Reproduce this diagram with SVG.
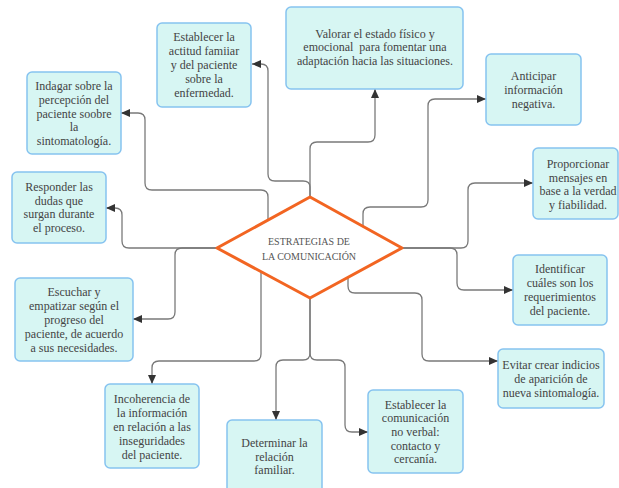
<svg xmlns="http://www.w3.org/2000/svg" width="619" height="488" viewBox="0 0 619 488">
  <style>
    .box { fill: #d7f6f3; stroke: #86c3f0; stroke-width: 1.5; }
    .lbl { font-family: "Liberation Serif", "Times New Roman", serif; font-size: 12px; fill: #444; text-anchor: middle; }
    .hub { font-family: "Liberation Serif", "Times New Roman", serif; font-size: 10px; fill: #555; text-anchor: middle; }
    .wire { fill: none; stroke: #7a7a7a; stroke-width: 1.3; marker-end: url(#arrow); }
    .wire-plain { fill: none; stroke: #7a7a7a; stroke-width: 1.3; }
  </style>
  <defs>
    <marker id="arrow" markerUnits="userSpaceOnUse" markerWidth="10" markerHeight="8" refX="9" refY="4" orient="auto">
      <path d="M0,0 L9,4 L0,8 Z" fill="#333"/>
    </marker>
  </defs>
  <rect width="619" height="488" fill="#ffffff"/>

  <!-- connectors: each starts under the hub and bends to its card -->
  <g id="connectors">
    <path class="wire" d="M268,232 V197 Q268,190 261,190 H152 Q145,190 145,183 V120 Q145,113 138,113 H121"/>
    <path class="wire" d="M310,205 V187 Q310,181 303,181 H275 Q268,181 268,174 V71 Q268,64 261,64 H252"/>
    <path class="wire" d="M310,205 V149 Q310,142 317,142 H368 Q375,142 375,135 V89"/>
    <path class="wire" d="M363,235 V214 Q363,207 370,207 H421 Q428,207 428,200 V106 Q428,99 435,99 H486"/>
    <path class="wire" d="M395,248 H461 Q468,248 468,241 V190 Q468,183 475,183 H533"/>
    <path class="wire" d="M395,248 H450 Q457,248 457,255 V283 Q457,290 464,290 H513"/>
    <path class="wire" d="M348,265 V286 Q348,293 355,293 H415 Q422,293 422,300 V354 Q422,361 429,361 H498"/>
    <path class="wire" d="M310,290 V353 Q310,360 317,360 H338 Q345,360 345,367 V425 Q345,432 352,432 H368"/>
    <path class="wire" d="M310,290 V353 Q310,360 303,360 H283 Q276,360 276,367 V420"/>
    <path class="wire" d="M261,262 V354 Q261,361 254,361 H159 Q152,361 152,368 V384"/>
    <path class="wire" d="M225,248 H182 Q175,248 175,255 V312 Q175,319 168,319 H133"/>
    <path class="wire" d="M225,248 H129 Q122,248 122,241 V215 Q122,208 115,208 H106"/>
  </g>

  <!-- central hub -->
  <g id="hub">
    <path d="M217,248 L310,197 L402,248 L310,298 Z" fill="#ffffff" stroke="#f26522" stroke-width="3" stroke-linejoin="round"/>
    <text class="hub" x="309" y="244.5">ESTRATEGIAS DE</text>
    <text class="hub" x="309" y="259.5">LA COMUNICACIÓN</text>
  </g>

  <g id="actitud">
    <rect class="box" x="157" y="23" width="94" height="84" rx="5"/>
    <text class="lbl" x="204"><tspan x="204" y="41.4">Establecer la</tspan><tspan x="204" y="55.2">actitud famiiar</tspan><tspan x="204" y="69">y del paciente</tspan><tspan x="204" y="82.8">sobre la</tspan><tspan x="204" y="96.6">enfermedad.</tspan></text>
  </g>

  <g id="indagar">
    <rect class="box" x="27" y="72" width="94" height="82" rx="5"/>
    <text class="lbl"><tspan x="74" y="90">Indagar sobre la</tspan><tspan x="74" y="103.8">percepción del</tspan><tspan x="74" y="117.6">paciente soobre</tspan><tspan x="74" y="131.4">la</tspan><tspan x="74" y="145.2">sintomatología.</tspan></text>
  </g>

  <g id="valorar">
    <rect class="box" x="286" y="7" width="177" height="82" rx="5"/>
    <text class="lbl" xml:space="preserve"><tspan x="375" y="37.5">Valorar el estado físico y</tspan><tspan x="375" y="51.3">emocional  para fomentar una</tspan><tspan x="375" y="65">adaptación hacia las situaciones.</tspan></text>
  </g>

  <g id="anticipar">
    <rect class="box" x="486" y="54" width="95" height="71" rx="5"/>
    <text class="lbl"><tspan x="533.5" y="80">Anticipar</tspan><tspan x="533.5" y="94">información</tspan><tspan x="533.5" y="108">negativa.</tspan></text>
  </g>

  <g id="proporcionar">
    <rect class="box" x="533" y="148" width="85" height="71" rx="5"/>
    <text class="lbl"><tspan x="578" y="168">Proporcionar</tspan><tspan x="578" y="181.5">mensajes en</tspan><tspan x="578" y="195">base a la verdad</tspan><tspan x="578" y="208.5">y fiabilidad.</tspan></text>
  </g>

  <g id="identificar">
    <rect class="box" x="513" y="255" width="94" height="70" rx="5"/>
    <text class="lbl"><tspan x="560" y="273.3">Identificar</tspan><tspan x="560" y="287">cuáles son los</tspan><tspan x="560" y="300.7">requerimientos</tspan><tspan x="560" y="314.5">del paciente.</tspan></text>
  </g>

  <g id="evitar">
    <rect class="box" x="498" y="349" width="106" height="59" rx="5"/>
    <text class="lbl"><tspan x="551" y="369">Evitar crear indicios</tspan><tspan x="551" y="383">de aparición de</tspan><tspan x="551" y="397">nueva sintomalogía.</tspan></text>
  </g>

  <g id="no-verbal">
    <rect class="box" x="368" y="390" width="95" height="83" rx="5"/>
    <text class="lbl"><tspan x="415.5" y="408.8">Establecer la</tspan><tspan x="415.5" y="422.4">comunicación</tspan><tspan x="415.5" y="436">no verbal:</tspan><tspan x="415.5" y="449.6">contacto y</tspan><tspan x="415.5" y="463.2">cercanía.</tspan></text>
  </g>

  <g id="determinar">
    <rect class="box" x="227" y="420" width="95" height="75" rx="5"/>
    <text class="lbl"><tspan x="274.5" y="447">Determinar la</tspan><tspan x="274.5" y="460.5">relación</tspan><tspan x="274.5" y="474">familiar.</tspan></text>
  </g>

  <g id="incoherencia">
    <rect class="box" x="105" y="384" width="94" height="84" rx="5"/>
    <text class="lbl"><tspan x="152" y="403.4">Incoherencia de</tspan><tspan x="152" y="417.2">la información</tspan><tspan x="152" y="431">en relación a las</tspan><tspan x="152" y="444.8">inseguridades</tspan><tspan x="152" y="458.6">del paciente.</tspan></text>
  </g>

  <g id="escuchar">
    <rect class="box" x="15" y="278" width="118" height="83" rx="5"/>
    <text class="lbl"><tspan x="74" y="296.4">Escuchar y</tspan><tspan x="74" y="310.2">empatizar según el</tspan><tspan x="74" y="324">progreso del</tspan><tspan x="74" y="337.8">paciente, de acuerdo</tspan><tspan x="74" y="351.6">a sus necesidades.</tspan></text>
  </g>

  <g id="responder">
    <rect class="box" x="12" y="172" width="94" height="71" rx="5"/>
    <text class="lbl"><tspan x="59" y="191">Responder las</tspan><tspan x="59" y="204.5">dudas que</tspan><tspan x="59" y="218">surgan durante</tspan><tspan x="59" y="231.5">el proceso.</tspan></text>
  </g>
</svg>
